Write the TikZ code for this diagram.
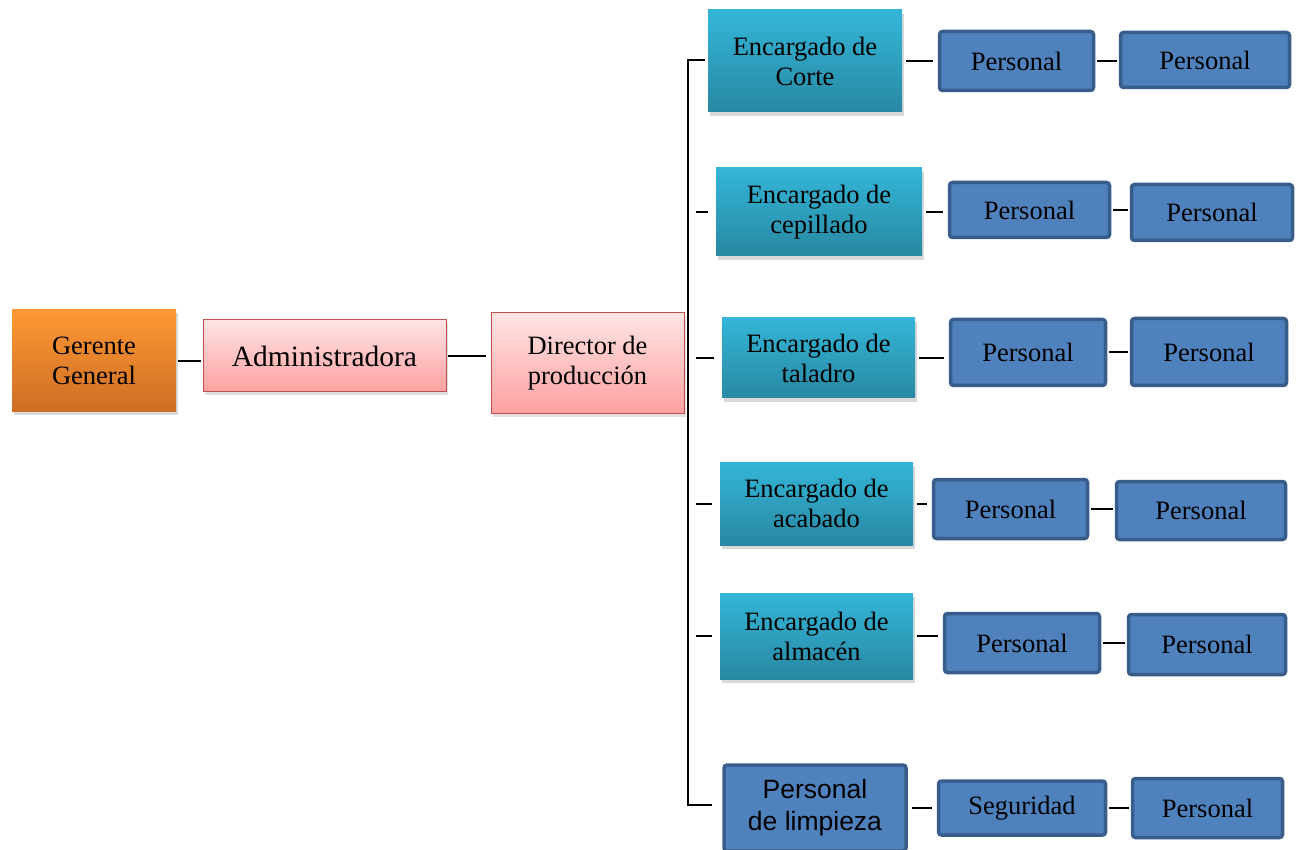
\documentclass[tikz,border=0pt]{standalone}
\usepackage{fontspec}
\setmainfont{Liberation Serif}
\newfontfamily\limpfont{Liberation Sans}
\usepackage{tikz}
\usetikzlibrary{shadows}
\definecolor{orangetop}{RGB}{255,152,52}
\definecolor{orangebot}{RGB}{204,110,36}
\definecolor{pinktop}{RGB}{255,228,228}
\definecolor{pinkbot}{RGB}{255,160,160}
\definecolor{pinkline}{RGB}{192,80,77}
\definecolor{tealtop}{RGB}{52,182,216}
\definecolor{tealbot}{RGB}{40,136,162}
\definecolor{bluefill}{RGB}{79,129,189}
\definecolor{blueline}{RGB}{56,93,138}

\begin{document}
\begin{tikzpicture}[x=1pt,y=-1pt,
    box/.style={inner sep=0pt, align=center, font=\fontsize{26.5}{30}\selectfont},
    boss/.style={box, top color=orangetop, bottom color=orangebot,
        drop shadow={opacity=.3, shadow xshift=2pt, shadow yshift=-3pt}},
    pinkbox/.style={box, draw=pinkline, line width=1pt, top color=pinktop, bottom color=pinkbot,
        drop shadow={opacity=.25, shadow xshift=2pt, shadow yshift=-3pt}},
    tealbox/.style={box, top color=tealtop, bottom color=tealbot,
        drop shadow={opacity=.3, shadow xshift=2pt, shadow yshift=-4pt}},
    staff/.style={box, draw=blueline, line width=3.5pt, fill=bluefill, rounded corners=3pt},
    link/.style={line width=2pt, shorten <=4pt, shorten >=5pt},
    linkshort/.style={line width=2pt, shorten <=2pt, shorten >=2pt}]
    \useasboundingbox (0,0) rectangle (1302,850);

    \node[boss, minimum width=164pt, minimum height=102pt] (ger) at (94,361) {Gerente\\General};
    \node[pinkbox, minimum width=243pt, minimum height=72pt, font=\fontsize{29.5}{32}\selectfont] (adm) at (324.5,356) {Administradora};
    \node[pinkbox, minimum width=193pt, minimum height=101pt] (dir) at (587.5,363.5) {Director de\\producción};

    \node[tealbox, minimum width=194pt, minimum height=102pt] (e1) at (805,61) {Encargado de\\Corte};
    \node[tealbox, minimum width=206pt, minimum height=88pt] (e2) at (819,212) {Encargado de\\cepillado};
    \node[tealbox, minimum width=193pt, minimum height=80pt] (e3) at (818.5,358) {Encargado de\\taladro};
    \node[tealbox, minimum width=193pt, minimum height=83pt] (e4) at (816.5,503.5) {Encargado de\\acabado};
    \node[tealbox, minimum width=193pt, minimum height=86pt] (e5) at (816.5,636) {Encargado de\\almacén};
    \node[staff, minimum width=182pt, minimum height=86pt, font=\limpfont\fontsize{26.5}{32}\selectfont] (e6) at (815,808) {Personal\\de limpieza};

    \node[staff, minimum width=154pt, minimum height=59pt] (p11) at (1016.5,61) {Personal};
    \node[staff, minimum width=169pt, minimum height=55pt] (p12) at (1205,60) {Personal};
    \node[staff, minimum width=160pt, minimum height=55pt] (p21) at (1029.5,210) {Personal};
    \node[staff, minimum width=161pt, minimum height=56pt] (p22) at (1212,212.5) {Personal};
    \node[staff, minimum width=155pt, minimum height=66pt] (p31) at (1028,352.5) {Personal};
    \node[staff, minimum width=155pt, minimum height=67pt] (p32) at (1209,352) {Personal};
    \node[staff, minimum width=154pt, minimum height=59pt] (p41) at (1010.5,509) {Personal};
    \node[staff, minimum width=169pt, minimum height=58pt] (p42) at (1201,510.5) {Personal};
    \node[staff, minimum width=155pt, minimum height=59pt] (p51) at (1022,643) {Personal};
    \node[staff, minimum width=157pt, minimum height=60pt] (p52) at (1207,644.5) {Personal};
    \node[staff, minimum width=167pt, minimum height=54pt] (p61) at (1022,808) {Seguridad};
    \node[staff, minimum width=150pt, minimum height=59pt] (p62) at (1207.5,808) {Personal};

    \draw[linkshort] (ger.east) -- (ger.east -| adm.west);
    \draw[link, shorten <=1pt] (adm.east) -- (adm.east -| dir.west);

    \coordinate (busTop) at (688,60);
    \coordinate (busBot) at (688,805);
    \draw[line width=1.5pt] ([xshift=-3pt]e1.west |- busTop) -- (busTop) -- (busBot) -- ([xshift=-10pt]e6.west |- busBot);
    \foreach \n in {e2,e3,e4,e5}
        \draw[line width=2pt] ([xshift=8pt]busTop |- \n.west) -- ([xshift=-8pt]\n.west);

    \foreach \e/\a/\b in {e1/p11/p12,e2/p21/p22,e3/p31/p32,e4/p41/p42,e5/p51/p52,e6/p61/p62} {
        \draw[link] (\e.east) -- (\e.east -| \a.west);
        \draw[linkshort] (\a.east) -- (\a.east -| \b.west);
    }
\end{tikzpicture}
\end{document}
